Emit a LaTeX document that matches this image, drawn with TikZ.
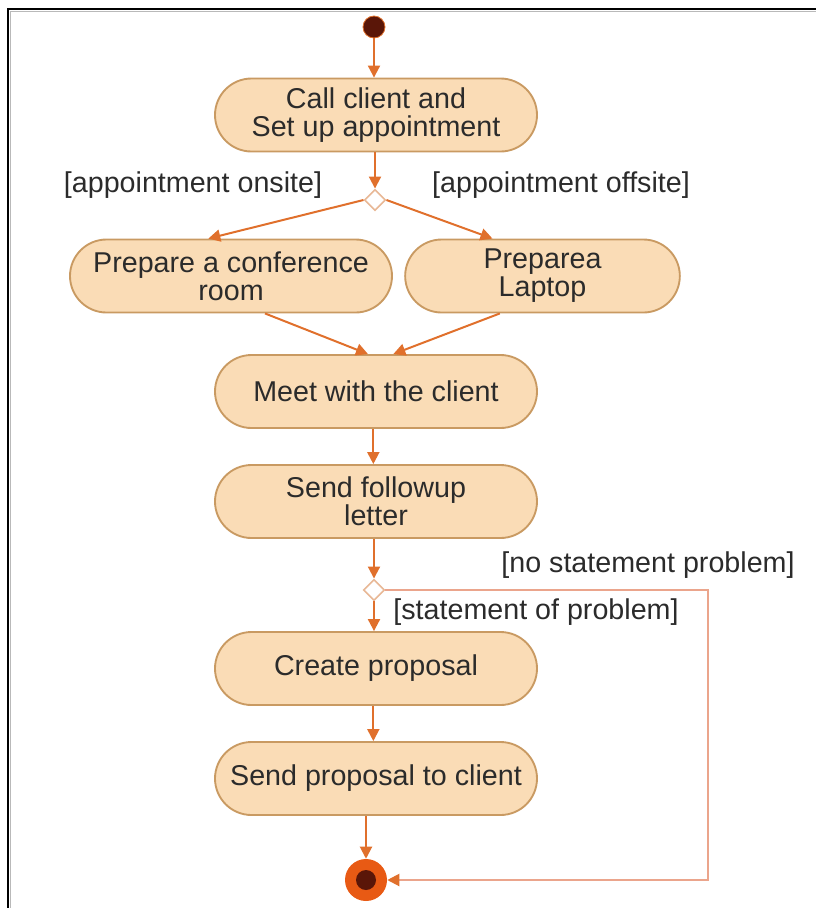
\documentclass[tikz,border=0pt]{standalone}
\usepackage{fontspec}
\setmainfont{Liberation Sans}
\usetikzlibrary{arrows.meta,shapes.geometric,shapes.misc}

\definecolor{boxfill}{HTML}{FADCB6}
\definecolor{boxline}{HTML}{C99A62}
\definecolor{flow}{HTML}{E0702C}
\definecolor{loopline}{HTML}{EBA58C}
\definecolor{choiceline}{HTML}{E8B896}
\definecolor{txt}{HTML}{2B2B2B}
\definecolor{startfill}{HTML}{5A1608}
\definecolor{endring}{HTML}{E85A14}

\begin{document}
\begin{tikzpicture}[x=0.75pt,y=-0.75pt,
  labelfont/.style={font=\fontsize{21.5}{21}\selectfont, text=txt},
  activity/.style={rounded rectangle, draw=boxline, line width=1.4pt, fill=boxfill,
    minimum height=54.75pt, minimum width=241.5pt, align=center, inner sep=0pt, labelfont},
  guard/.style={inner sep=0pt, labelfont},
  choice/.style={diamond, draw=choiceline, fill=white, line width=1.2pt,
    minimum size=16pt, inner sep=0pt},
  flowarrow/.style={draw=flow, line width=1.5pt, -{Triangle[length=9pt,width=9pt]}},
  looparrow/.style={draw=loopline, line width=1.5pt,
    -{Triangle[length=9pt,width=9pt,color=flow,fill=flow]}}]

\useasboundingbox (0,0) rectangle (816,908);

% frame edges
\draw[gray!55, line width=0.8pt] (816,11.5) -- (10.5,11.5) -- (10.5,908);
\draw[black, line width=1.5pt] (816,9) -- (8,9) -- (8,908);

% initial and final nodes
\node[circle, fill=startfill, draw=flow, line width=0.6pt, minimum size=16.5pt, inner sep=0pt] (start) at (374,27) {};
\node[circle, fill=endring, minimum size=31.5pt, inner sep=0pt] (finish) at (366,880) {};
\node[circle, fill=startfill, minimum size=15pt, inner sep=0pt] (finishcore) at (366,880) {};

% activities
\node[activity] (a1) at (376,115) {Call client and\\Set up appointment};
\node[activity] (a2) at (231,276) {Prepare a conference\\room};
\node[activity, minimum width=206pt] (a3) at (542.5,276) {Preparea\\Laptop};
\node[activity] (a4) at (376,391.5) {Meet with the client};
\node[activity] (a5) at (376,501.5) {Send followup\\letter};
\node[activity] (a6) at (376,668.5) {Create proposal};
\node[activity] (a7) at (376,778.5) {Send proposal to client};

% decisions
\node[choice] (d1) at (375,200) {};
\node[choice] (d2) at (374,590) {};
\coordinate (loopcorner) at (708,590);

% guards
\node[guard] (g1) at (193,185) {[appointment onsite]};
\node[guard] (g2) at (561,185) {[appointment offsite]};
\node[guard] (g3) at (648,565) {[no statement problem]};
\node[guard] (g4) at (536,612) {[statement of problem]};

% control flow
\draw[flowarrow] (start.south) -- (start.south |- a1.north);
\draw[flowarrow] (a1.south -| d1) -- (d1.north);
\draw[flowarrow] (d1.west) -- ([xshift=-17pt]a2.north);
\draw[flowarrow] (d1.east) -- ([xshift=-37.5pt]a3.north);
\draw[flowarrow] ([xshift=25.5pt]a2.south) -- ([xshift=-6pt]a4.north);
\draw[flowarrow] ([xshift=-32pt]a3.south) -- ([xshift=13pt]a4.north);
\draw[flowarrow] ([xshift=-2pt]a4.south) -- ([xshift=-2pt]a5.north);
\draw[flowarrow] (a5.south -| d2) -- (d2.north);
\draw[flowarrow] (d2.south) -- (d2.south |- a6.north);
\draw[flowarrow] ([xshift=-2pt]a6.south) -- ([xshift=-2pt]a7.north);
\draw[flowarrow] (a7.south -| finish) -- (finish.north);
\draw[looparrow] (d2.east) -- (loopcorner) -- (loopcorner |- finish) -- (finish.east);

\end{tikzpicture}
\end{document}
